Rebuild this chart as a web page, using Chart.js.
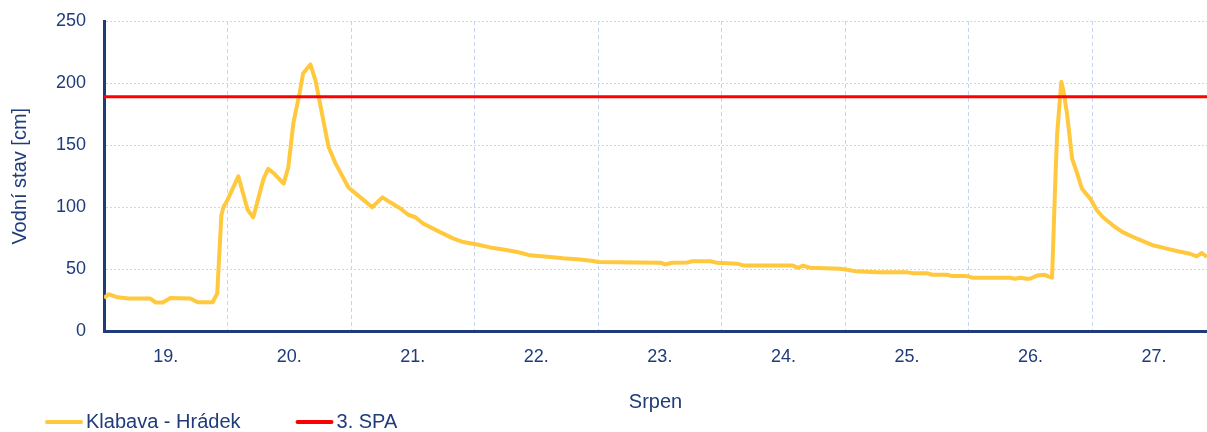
<!DOCTYPE html>
<html><head><meta charset="utf-8">
<script src="https://cdn.jsdelivr.net/npm/chart.js@4.4.1/dist/chart.umd.min.js"></script>
<style>html,body{margin:0;padding:0;background:#fff}#wrap{width:1207px;height:432px;position:relative}</style>
</head><body><div id="wrap"><canvas id="c"></canvas></div>
<script>
// hours since 19 Aug 00:00
const hours = [0, 0.9, 2.6, 4.8, 9.0, 10.0, 11.4, 12.9, 16.8, 18.2, 21.1, 22.0, 22.8, 23.2, 24.0, 26.1, 27.9, 29.0, 31.0, 31.9, 33.1, 34.9, 35.8, 36.8, 38.0, 38.7, 40.1, 41.1, 43.6, 44.9, 47.5, 50.4, 52.1, 54.1, 55.6, 57.6, 59.1, 60.5, 62.0, 65.3, 67.8, 69.8, 72.5, 75.0, 77.6, 80.3, 82.8, 86.7, 89.2, 92.5, 95.0, 96.0, 108.1, 109.0, 110.4, 113.3, 114.3, 117.8, 119.1, 123.0, 124.2, 133.7, 134.9, 135.8, 137.2, 143.0, 144.4, 145.9, 150.2, 156.0, 157.0, 159.9, 160.9, 163.8, 164.8, 167.6, 168.8, 176.0, 177.0, 178.0, 179.3, 179.9, 181.3, 182.8, 183.4, 184.2, 184.9, 185.2, 186.0, 186.4, 187.1, 188.1, 189.1, 190.0, 191.6, 192.9, 194.1, 196.0, 197.9, 200.7, 203.8, 206.5, 208.4, 211.0, 212.3, 213.3, 214.3];
const levels = [27, 30, 27.5, 26.6, 26.6, 23.4, 23.4, 27, 26.6, 23.6, 23.6, 30.6, 93.5, 100, 106, 125, 98, 92, 123, 131, 127, 119, 132, 168, 192, 208, 215, 202, 149, 136, 116, 106, 100, 108, 104, 99, 94, 92, 87, 80, 75, 72, 70, 67.7, 66, 64, 61.3, 60, 58.9, 58, 56.7, 56, 55.4, 54, 55.4, 55.6, 56.5, 56.5, 55.4, 54.6, 53.2, 53.2, 51.3, 53, 51.3, 50.5, 49.7, 48.6, 47.8, 47.8, 47, 47, 45.7, 45.7, 44.6, 44.6, 43.3, 43.3, 42.5, 43.3, 42.5, 42.5, 45, 45.7, 44.4, 43.3, 130, 160, 201, 194, 175.5, 139, 127, 115, 107, 97.6, 92, 85.5, 80, 74.7, 69.4, 66.7, 64.8, 62.6, 60.5, 63.2, 60];
const spaHours = [0, 214.3];
const spaLevels = [189, 189];
const dayLabels = ['19.', '20.', '21.', '22.', '23.', '24.', '25.', '26.', '27.'];
const yTicks = [0, 50, 100, 150, 200, 250];
const seriesNames = ['Klabava - Hrádek', '3. SPA'];
const xAxisTitle = 'Srpen';
const yAxisTitle = 'Vodní stav [cm]';

const NAVY = '#1f3b7a';
const FONT = "'Liberation Sans', Arial, sans-serif";

const legendPlugin = {
  id: 'bottomLegend',
  afterDraw(chart) {
    const ctx = chart.ctx;
    ctx.save();
    ctx.font = '20px ' + FONT;
    ctx.textBaseline = 'middle';
    ctx.textAlign = 'left';
    let x = 45; const y = 422;
    chart.data.datasets.forEach(ds => {
      ctx.strokeStyle = ds.borderColor; ctx.lineWidth = 4; ctx.lineCap = 'round';
      ctx.beginPath(); ctx.moveTo(x + 2, y); ctx.lineTo(x + 36, y); ctx.stroke();
      ctx.fillStyle = NAVY;
      ctx.fillText(ds.label, x + 41, y);
      x += 41 + ctx.measureText(ds.label).width + 55;
    });
    ctx.restore();
  }
};

new Chart(document.getElementById('c'), {
  type: 'line',
  data: { datasets: [
    { label: seriesNames[0], data: hours.map((h, i) => ({x: h, y: levels[i]})), borderColor: '#FFC83D', backgroundColor: '#FFC83D', borderWidth: 4, pointRadius: 0, tension: 0, order: 1, borderJoinStyle: 'round' },
    { label: seriesNames[1], data: spaHours.map((h, i) => ({x: h, y: spaLevels[i]})), borderColor: '#FF0000', backgroundColor: '#FF0000', borderWidth: 3, pointRadius: 0, order: 0 }
  ]},
  options: {
    responsive: true, maintainAspectRatio: false, animation: false,
    layout: {padding: {top: 21, bottom: 18, left: 0, right: 0}},
    plugins: {legend: {display: false}, tooltip: {enabled: false}},
    scales: {
      x: {type: 'linear', min: 0, max: 214.3,
        afterBuildTicks(s) { s.ticks = []; for (let v = 0; v <= 204; v += 12) s.ticks.push({value: v}); },
        afterFit(s) { s.height = 82.5; s.paddingLeft = 0; s.paddingRight = 0; },
        ticks: {padding: 15, color: NAVY, font: {family: FONT, size: 18}, maxRotation: 0, autoSkip: false,
          callback(v) { const k = (v - 12) / 24; return (Number.isInteger(k) && dayLabels[k]) ? dayLabels[k] : ''; }},
        grid: {drawTicks: false, lineWidth: 1, color(c) { const v = c.tick ? c.tick.value : -1; return (v > 0 && v % 24 === 0) ? '#c5d4f0' : 'rgba(0,0,0,0)'; }},
        border: {display: true, color: NAVY, width: 3, dash: [4, 3]},
        title: {display: true, text: xAxisTitle, color: NAVY, font: {family: FONT, size: 20}, padding: {top: 0, bottom: 0}}
      },
      y: {min: 0, max: 250,
        afterBuildTicks(s) { s.ticks = yTicks.map(v => ({value: v})); },
        afterFit(s) { s.width = 104; s.paddingTop = 0; s.paddingBottom = 0; },
        ticks: {padding: 18, color: NAVY, font: {family: FONT, size: 18}},
        grid: {drawTicks: false, lineWidth: 1, color(c) { return (c.tick && c.tick.value > 0) ? '#c9d7ef' : 'rgba(0,0,0,0)'; }},
        border: {display: true, color: NAVY, width: 3, dash: [2, 2]},
        title: {display: true, text: yAxisTitle, color: NAVY, font: {family: FONT, size: 20}, padding: {top: 8, bottom: 0}}
      }
    }
  },
  plugins: [legendPlugin]
});
</script></body></html>
